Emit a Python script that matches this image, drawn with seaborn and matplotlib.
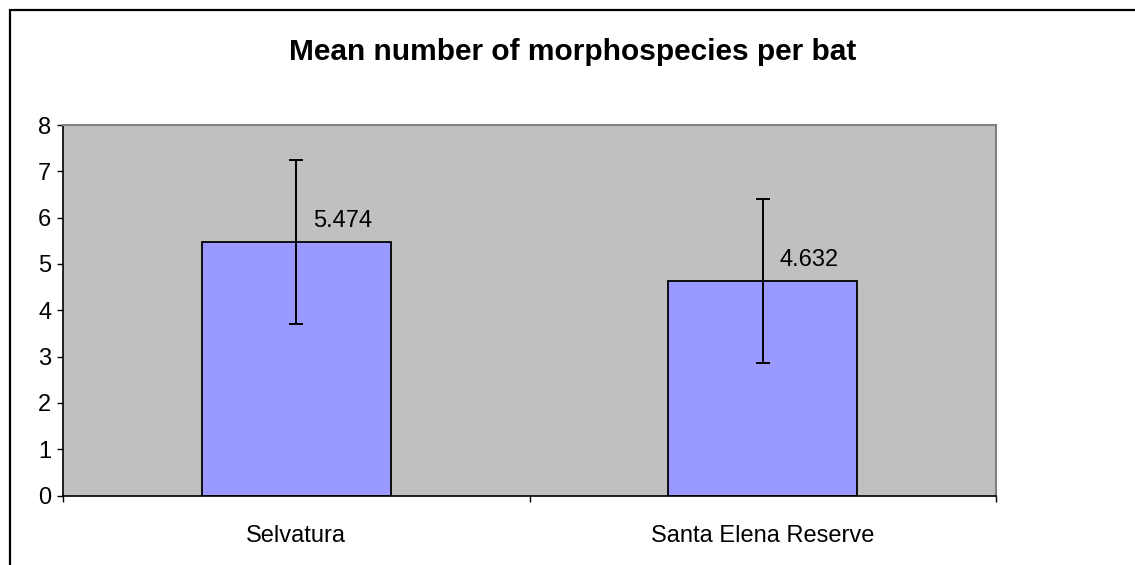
import matplotlib
matplotlib.use("Agg")
import matplotlib.pyplot as plt
import seaborn as sns
from matplotlib.patches import Rectangle

# Data
sites = ["Selvatura", "Santa Elena Reserve"]
mean_species = [5.474, 4.632]
sd_species = [1.77, 1.77]
value_labels = ["5.474", "4.632"]
y_ticks = [0, 1, 2, 3, 4, 5, 6, 7, 8]

sns.set_style("white")
plt.rcParams["font.family"] = ["Liberation Sans", "DejaVu Sans"]
plt.rcParams["text.color"] = "black"
plt.rcParams["xtick.color"] = "black"
plt.rcParams["ytick.color"] = "black"

W, H, DPI = 1135, 565, 100
fig = plt.figure(figsize=(W / DPI, H / DPI), dpi=DPI)
ax = fig.add_axes([63 / W, 1 - 495.5 / H, (996 - 63) / W, (495.5 - 125) / H])

# Bars
sns.barplot(x=sites, y=mean_species, ax=ax, color="#9999FF", saturation=1,
            width=0.405, edgecolor="black", linewidth=1.3, errorbar=None)

# Error bars (+/- 1 SD)
ax.errorbar(range(len(sites)), mean_species, yerr=sd_species, fmt="none",
            ecolor="black", elinewidth=1.4, capsize=5, capthick=1.4, zorder=5)

# Value labels
for i, (m, lab) in enumerate(zip(mean_species, value_labels)):
    ax.annotate(lab, xy=(i, m), xytext=(17, 21), textcoords="offset pixels",
                ha="left", va="center", fontsize=17, color="black")

# Axes styling
ax.set_facecolor("#C0C0C0")
ax.set_ylim(0, 8)
ax.set_xlim(-0.5, len(sites) - 0.5)
ax.set_yticks(y_ticks)
ax.set_yticklabels([str(t) for t in y_ticks], fontsize=17)
ax.tick_params(axis="y", direction="out", length=4.5, width=1,
               left=True, pad=4)

# category boundaries as major ticks, labels on minor ticks at centres
ax.set_xticks([-0.5, 0.5, 1.5])
ax.set_xticklabels([])
ax.set_xticks(range(len(sites)), minor=True)
ax.set_xticklabels(sites, minor=True, fontsize=17)
ax.tick_params(axis="x", which="major", direction="out", length=4, width=1,
               bottom=True)
ax.tick_params(axis="x", which="minor", length=0, pad=21)
ax.set_xlabel("")
ax.set_ylabel("")

for side in ["left", "bottom"]:
    ax.spines[side].set_color("black")
    ax.spines[side].set_linewidth(1.2)
for side in ["top", "right"]:
    ax.spines[side].set_visible(True)
    ax.spines[side].set_color("#808080")
    ax.spines[side].set_linewidth(1.5)

# Title
fig.text(573 / W, 1 - 52 / H, "Mean number of morphospecies per bat",
         ha="center", va="center", fontsize=21.5, fontweight="bold",
         color="black")

# Outer chart border (only left and top edges visible in the reference)
fig.patches.append(Rectangle((10 / W, -0.2), 1.2, 1.2 - 9.5 / H,
                             transform=fig.transFigure, fill=False,
                             edgecolor="black", linewidth=1.6))

fig.savefig("out.png", dpi=DPI, facecolor="white")
